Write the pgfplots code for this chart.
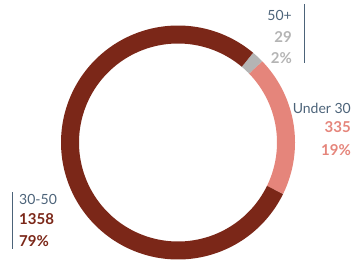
\documentclass[border=0pt]{standalone}
\usepackage{pgfplots}
\pgfplotsset{compat=1.18}
\usepackage{fontspec}
\setmainfont{Lato}
\definecolor{cDark}{HTML}{7B2718}
\definecolor{cPink}{HTML}{E5857B}
\definecolor{cGray}{HTML}{B4B4B4}
\definecolor{cLab}{HTML}{4C6379}
% data
\def\vA{29}   % 50+
\def\vB{335}  % Under 30
\def\vC{1358} % 30-50
\pgfmathsetmacro\tot{\vA+\vB+\vC}
\pgfmathsetmacro\sA{50}
\pgfmathsetmacro\eA{\sA-360*(\vA/\tot)}
\pgfmathsetmacro\eB{\eA-360*(\vB/\tot)}
\pgfmathsetmacro\eC{\eB-360*(\vC/\tot)}
\def\cx{178}\def\cy{142.5}\def\rr{108}
\begin{document}
\begin{tikzpicture}
\begin{axis}[
  scale only axis, width=355bp, height=261bp,
  xmin=0, xmax=355, ymin=0, ymax=261, y dir=reverse,
  hide axis, clip=false,
]
\addplot[draw=none, forget plot] coordinates {(0,0) (355,261)};
\addplot[draw=cGray, line width=18bp, no marks, samples=20, domain=\eA:\sA]
  ({\cx+\rr*cos(x)},{\cy-\rr*sin(x)});
\addplot[draw=cPink, line width=18bp, no marks, samples=60, domain=\eB:\eA]
  ({\cx+\rr*cos(x)},{\cy-\rr*sin(x)});
\addplot[draw=cDark, line width=18bp, no marks, samples=200, domain=\eC:\eB]
  ({\cx+\rr*cos(x)},{\cy-\rr*sin(x)});
% label lines
\addplot[draw=cLab, line width=0.8bp, no marks] coordinates {(304,4) (304,63)};
\addplot[draw=cLab, line width=0.8bp, no marks] coordinates {(12,192) (12,249)};
% labels
\node[anchor=east, text=cLab, font=\fontsize{14bp}{16bp}\selectfont, inner sep=0pt] at (axis cs:292,15) {50+};
\node[anchor=east, text=cGray, font=\fontsize{15bp}{17bp}\selectfont\bfseries, inner sep=0pt] at (axis cs:292,37) {29};
\node[anchor=east, text=cGray, font=\fontsize{15bp}{17bp}\selectfont\bfseries, inner sep=0pt] at (axis cs:292,58) {2\%};
\node[anchor=east, text=cLab, font=\fontsize{14bp}{16bp}\selectfont, inner sep=0pt] at (axis cs:351,108) {Under 30};
\node[anchor=east, text=cPink, font=\fontsize{15bp}{17bp}\selectfont\bfseries, inner sep=0pt] at (axis cs:351,127) {335};
\node[anchor=east, text=cPink, font=\fontsize{15bp}{17bp}\selectfont\bfseries, inner sep=0pt] at (axis cs:351,150) {19\%};
\node[anchor=west, text=cLab, font=\fontsize{14bp}{16bp}\selectfont, inner sep=0pt] at (axis cs:19,199) {30-50};
\node[anchor=west, text=cDark, font=\fontsize{15bp}{17bp}\selectfont\bfseries, inner sep=0pt] at (axis cs:19,219) {1358};
\node[anchor=west, text=cDark, font=\fontsize{15bp}{17bp}\selectfont\bfseries, inner sep=0pt] at (axis cs:19,241) {79\%};
\end{axis}
\end{tikzpicture}
\end{document}
